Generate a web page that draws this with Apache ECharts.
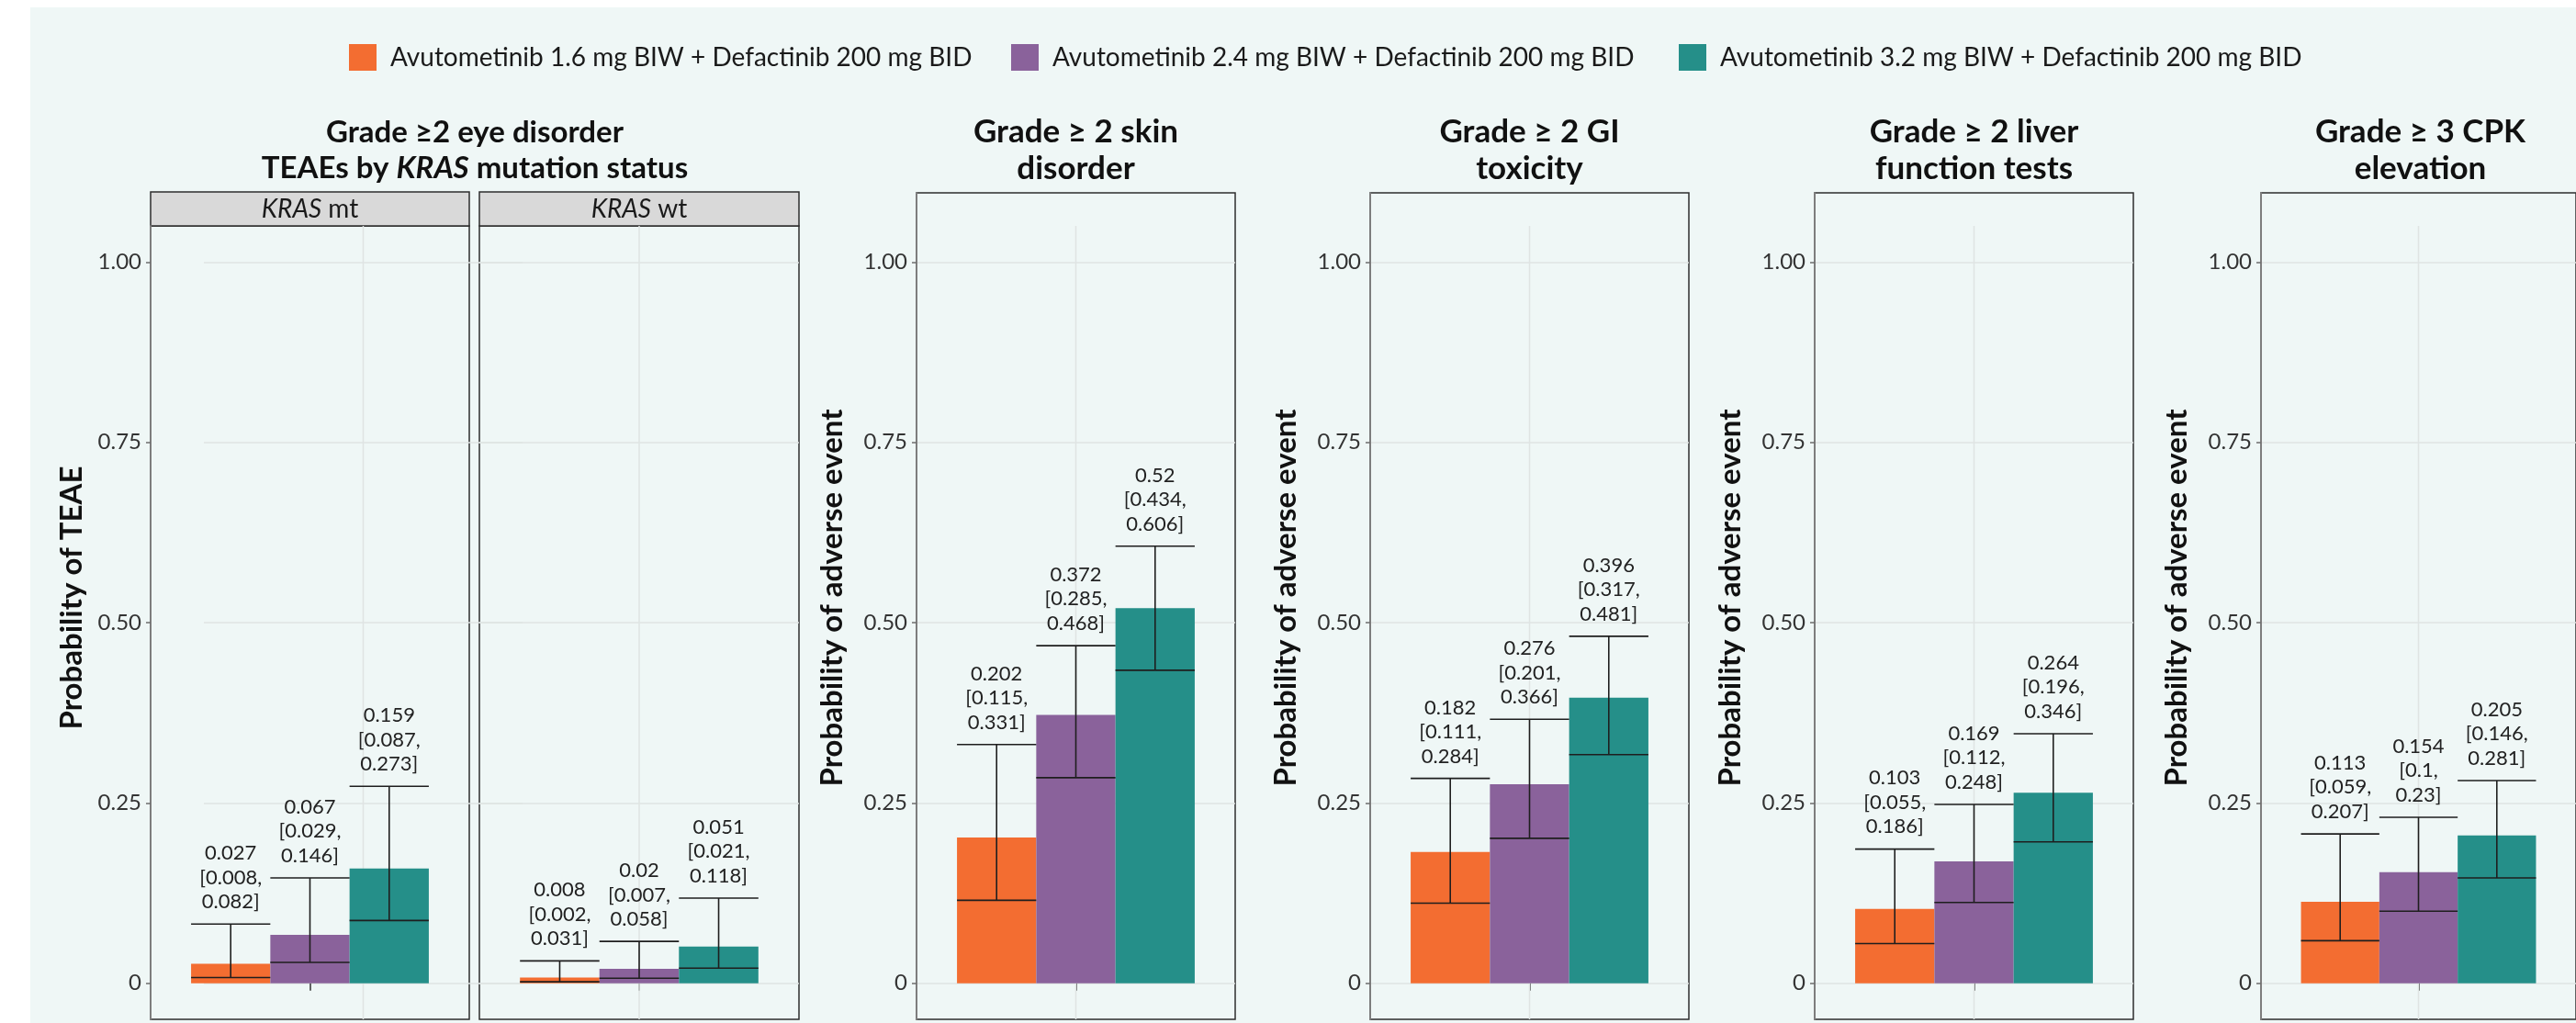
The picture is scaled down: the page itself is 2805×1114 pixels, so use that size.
<!DOCTYPE html>
<html><head><meta charset="utf-8">
<script src="https://cdn.jsdelivr.net/npm/echarts@6/dist/echarts.min.js"></script>
<style>html,body{margin:0;padding:0;background:#fff}#c{width:2805px;height:1114px}</style>
</head><body><div id="c"></div>
<script>
// ---------------- data ----------------
const doses = [
  'Avutometinib 1.6 mg BIW + Defactinib 200 mg BID',
  'Avutometinib 2.4 mg BIW + Defactinib 200 mg BID',
  'Avutometinib 3.2 mg BIW + Defactinib 200 mg BID'
];
const doseColors = ['#F36D31', '#8A629B', '#258F89'];

const eyeKrasMtMean  = [0.027, 0.067, 0.159];
const eyeKrasMtLower = [0.008, 0.029, 0.087];
const eyeKrasMtUpper = [0.082, 0.146, 0.273];

const eyeKrasWtMean  = [0.008, 0.02, 0.051];
const eyeKrasWtLower = [0.002, 0.007, 0.021];
const eyeKrasWtUpper = [0.031, 0.058, 0.118];

const skinMean  = [0.202, 0.372, 0.52];
const skinLower = [0.115, 0.285, 0.434];
const skinUpper = [0.331, 0.468, 0.606];

const giMean  = [0.182, 0.276, 0.396];
const giLower = [0.111, 0.201, 0.317];
const giUpper = [0.284, 0.366, 0.481];

const liverMean  = [0.103, 0.169, 0.264];
const liverLower = [0.055, 0.112, 0.196];
const liverUpper = [0.186, 0.248, 0.346];

const cpkMean  = [0.113, 0.154, 0.205];
const cpkLower = [0.059, 0.1, 0.146];
const cpkUpper = [0.207, 0.23, 0.281];

const yTickValues = [0, 0.25, 0.5, 0.75, 1];
const yTickLabels = ['0', '0.25', '0.50', '0.75', '1.00'];

const eyeTitle = 'Grade \u22652 eye disorder\nTEAEs by {i|KRAS} mutation status';
const stripLabels = ['{i|KRAS} mt', '{i|KRAS} wt'];
const otherTitles = ['Grade \u2265 2 skin\ndisorder', 'Grade \u2265 2 GI\ntoxicity', 'Grade \u2265 2 liver\nfunction tests', 'Grade \u2265 3 CPK\nelevation'];
const eyeYTitle = 'Probability of TEAE';
const otherYTitle = 'Probability of adverse event';

// ---------------- layout ----------------
const FONT = 'Lato, "Open Sans", "Noto Sans", sans-serif';
const PLOT_TOP = 246, PLOT_BOTTOM = 1110, YMIN = -0.05, YMAX = 1.05;
const pxPerUnit = (PLOT_BOTTOM - PLOT_TOP) / (YMAX - YMIN);
const panels = [
  {mean: eyeKrasMtMean, lo: eyeKrasMtLower, hi: eyeKrasMtUpper, left: 164, width: 347, top: 246, labels: true},
  {mean: eyeKrasWtMean, lo: eyeKrasWtLower, hi: eyeKrasWtUpper, left: 522, width: 348, top: 246, labels: false},
  {mean: skinMean, lo: skinLower, hi: skinUpper, left: 998, width: 347, top: 210, labels: true},
  {mean: giMean, lo: giLower, hi: giUpper, left: 1492, width: 347, top: 210, labels: true},
  {mean: liverMean, lo: liverLower, hi: liverUpper, left: 1976, width: 347, top: 210, labels: true},
  {mean: cpkMean, lo: cpkLower, hi: cpkUpper, left: 2462, width: 347, top: 210, labels: true}
];
const CAT_GAP = 0.254;
const GRID_COLOR = '#dfe4e3';

const grids = [], xAxes = [], yAxes = [], series = [];

function yAxisFor(i, p, opts) {
  return Object.assign({
    type: 'value', gridIndex: i, min: YMIN,
    max: YMAX + (PLOT_TOP - p.top) / pxPerUnit,
    axisLine: {show: p.labels, lineStyle: {color: '#7d7d7d', width: 2}},
    axisTick: {show: p.labels, length: 5, customValues: yTickValues, lineStyle: {color: '#6d6d6d', width: 1.5}},
    axisLabel: {show: p.labels, customValues: yTickValues, margin: 10, color: '#333', fontFamily: FONT, fontSize: 24,
      formatter: v => yTickLabels[yTickValues.indexOf(v)]},
    splitLine: {show: i !== 0, lineStyle: {color: GRID_COLOR, width: 1.5}}
  }, opts || {});
}

panels.forEach((p, i) => {
  grids.push({left: p.left, top: p.top, width: p.width, height: PLOT_BOTTOM - p.top,
    show: true, borderColor: '#2e2e2e', borderWidth: 1.5, backgroundColor: 'transparent'});
  xAxes.push({type: 'category', gridIndex: i, data: [''],
    axisLine: {show: false}, axisLabel: {show: false},
    axisTick: {show: true, alignWithLabel: true, length: 8, lineStyle: {color: '#333', width: 1.5}},
    splitLine: {show: false}});
  yAxes.push(yAxisFor(i, p));
});
// shifted gridlines layer of the first facet (as in the reference)
const shiftP = {left: 222, width: 347, top: 246, labels: false};
grids.push({left: shiftP.left, top: shiftP.top, width: shiftP.width, height: PLOT_BOTTOM - shiftP.top, show: false});
xAxes.push({type: 'category', gridIndex: 6, data: [''], show: false});
yAxes.push(yAxisFor(6, shiftP, {axisLine: {show: false}}));

// vertical centre gridlines
[1, 2, 3, 4, 5, 6].forEach(g => {
  series.push({type: 'custom', xAxisIndex: g, yAxisIndex: g, z: 1, silent: true, data: [[0]],
    renderItem: (params, api) => {
      const x = api.coord([0, 0])[0];
      const y1 = api.coord([0, YMAX])[1];
      const y2 = api.coord([0, YMIN])[1];
      return {type: 'line', shape: {x1: x, y1: y1, x2: x, y2: y2}, style: {stroke: GRID_COLOR, lineWidth: 1.5}};
    }});
});

panels.forEach((p, i) => {
  doses.forEach((d, k) => {
    series.push({type: 'bar', name: d, xAxisIndex: i, yAxisIndex: i, z: 2,
      barGap: '0%', barCategoryGap: (CAT_GAP * 100) + '%',
      itemStyle: {color: doseColors[k]}, data: [p.mean[k]]});
  });
  series.push({type: 'custom', xAxisIndex: i, yAxisIndex: i, z: 3, silent: true,
    data: p.mean.map((m, k) => [0, m, p.lo[k], p.hi[k], k]),
    renderItem: (params, api) => {
      const k = api.value(4);
      const band = api.size([1, 0])[0];
      const bw = band * (1 - CAT_GAP) / 3;
      const cx = api.coord([0, 0])[0] + (k - 1) * bw;
      const yHi = api.coord([0, api.value(3)])[1];
      const yLo = api.coord([0, api.value(2)])[1];
      const st = {stroke: '#1e1e1e', lineWidth: 1.6};
      const idx = params.dataIndex;
      const txt = p.mean[idx] + '\n[' + p.lo[idx] + ',\n' + p.hi[idx] + ']';
      return {type: 'group', children: [
        {type: 'line', shape: {x1: cx, y1: yLo, x2: cx, y2: yHi}, style: st},
        {type: 'line', shape: {x1: cx - bw / 2, y1: yHi, x2: cx + bw / 2, y2: yHi}, style: st},
        {type: 'line', shape: {x1: cx - bw / 2, y1: yLo, x2: cx + bw / 2, y2: yLo}, style: st},
        {type: 'text', x: cx, y: yHi - 11, style: {text: txt, fill: '#222', fontFamily: FONT, fontSize: 22,
          align: 'center', verticalAlign: 'bottom', lineHeight: 26.5}}
      ]};
    }});
});

// ---------------- decorations ----------------
const graphic = [
  {type: 'rect', z: -100, silent: true, shape: {x: 33, y: 8, width: 2805 - 33, height: 1114 - 8}, style: {fill: '#eff7f6'}},
  {type: 'text', x: 517, y: 164, style: {text: eyeTitle, fill: '#111', fontFamily: FONT, fontWeight: 'bold', fontSize: 33,
    align: 'center', verticalAlign: 'middle', lineHeight: 39,
    rich: {i: {fontStyle: 'italic', fontWeight: 'bold', fontFamily: FONT, fontSize: 33, lineHeight: 39, fill: '#111'}}}},
  {type: 'text', x: 78, y: 651, rotation: Math.PI / 2, style: {text: eyeYTitle, fill: '#111', fontFamily: FONT,
    fontWeight: 'bold', fontSize: 33, align: 'center', verticalAlign: 'middle'}}
];
[0, 1].forEach(i => {
  const p = panels[i];
  graphic.push({type: 'rect', shape: {x: p.left, y: 209, width: p.width, height: 37},
    style: {fill: '#d9d9d9', stroke: '#2e2e2e', lineWidth: 1.5}});
  graphic.push({type: 'text', x: p.left + p.width / 2, y: 228, style: {text: stripLabels[i], fill: '#1a1a1a',
    fontFamily: FONT, fontSize: 28, align: 'center', verticalAlign: 'middle',
    rich: {i: {fontStyle: 'italic', fontFamily: FONT, fontSize: 28, fill: '#1a1a1a'}}}});
});
[2, 3, 4, 5].forEach((pi, j) => {
  const p = panels[pi];
  graphic.push({type: 'text', x: p.left + p.width / 2, y: 164, style: {text: otherTitles[j], fill: '#111',
    fontFamily: FONT, fontWeight: 'bold', fontSize: 35, align: 'center', verticalAlign: 'middle', lineHeight: 40}});
  graphic.push({type: 'text', x: p.left - 92, y: 651, rotation: Math.PI / 2, style: {text: otherYTitle, fill: '#111',
    fontFamily: FONT, fontWeight: 'bold', fontSize: 33, align: 'center', verticalAlign: 'middle'}});
});

const legendLefts = [380, 1101, 1828];
const legends = doses.map((d, k) => ({
  data: [d], left: legendLefts[k], top: 48, icon: 'rect', itemWidth: 30, itemHeight: 29,
  selectedMode: false, padding: 0,
  textStyle: {fontFamily: FONT, fontSize: 28, color: '#1a1a1a', padding: [0, 0, 0, 10]}
}));

const chart = echarts.init(document.getElementById('c'));
chart.setOption({
  backgroundColor: '#ffffff',
  animation: false,
  legend: legends,
  grid: grids, xAxis: xAxes, yAxis: yAxes,
  series: series,
  graphic: graphic
});
</script></body></html>
